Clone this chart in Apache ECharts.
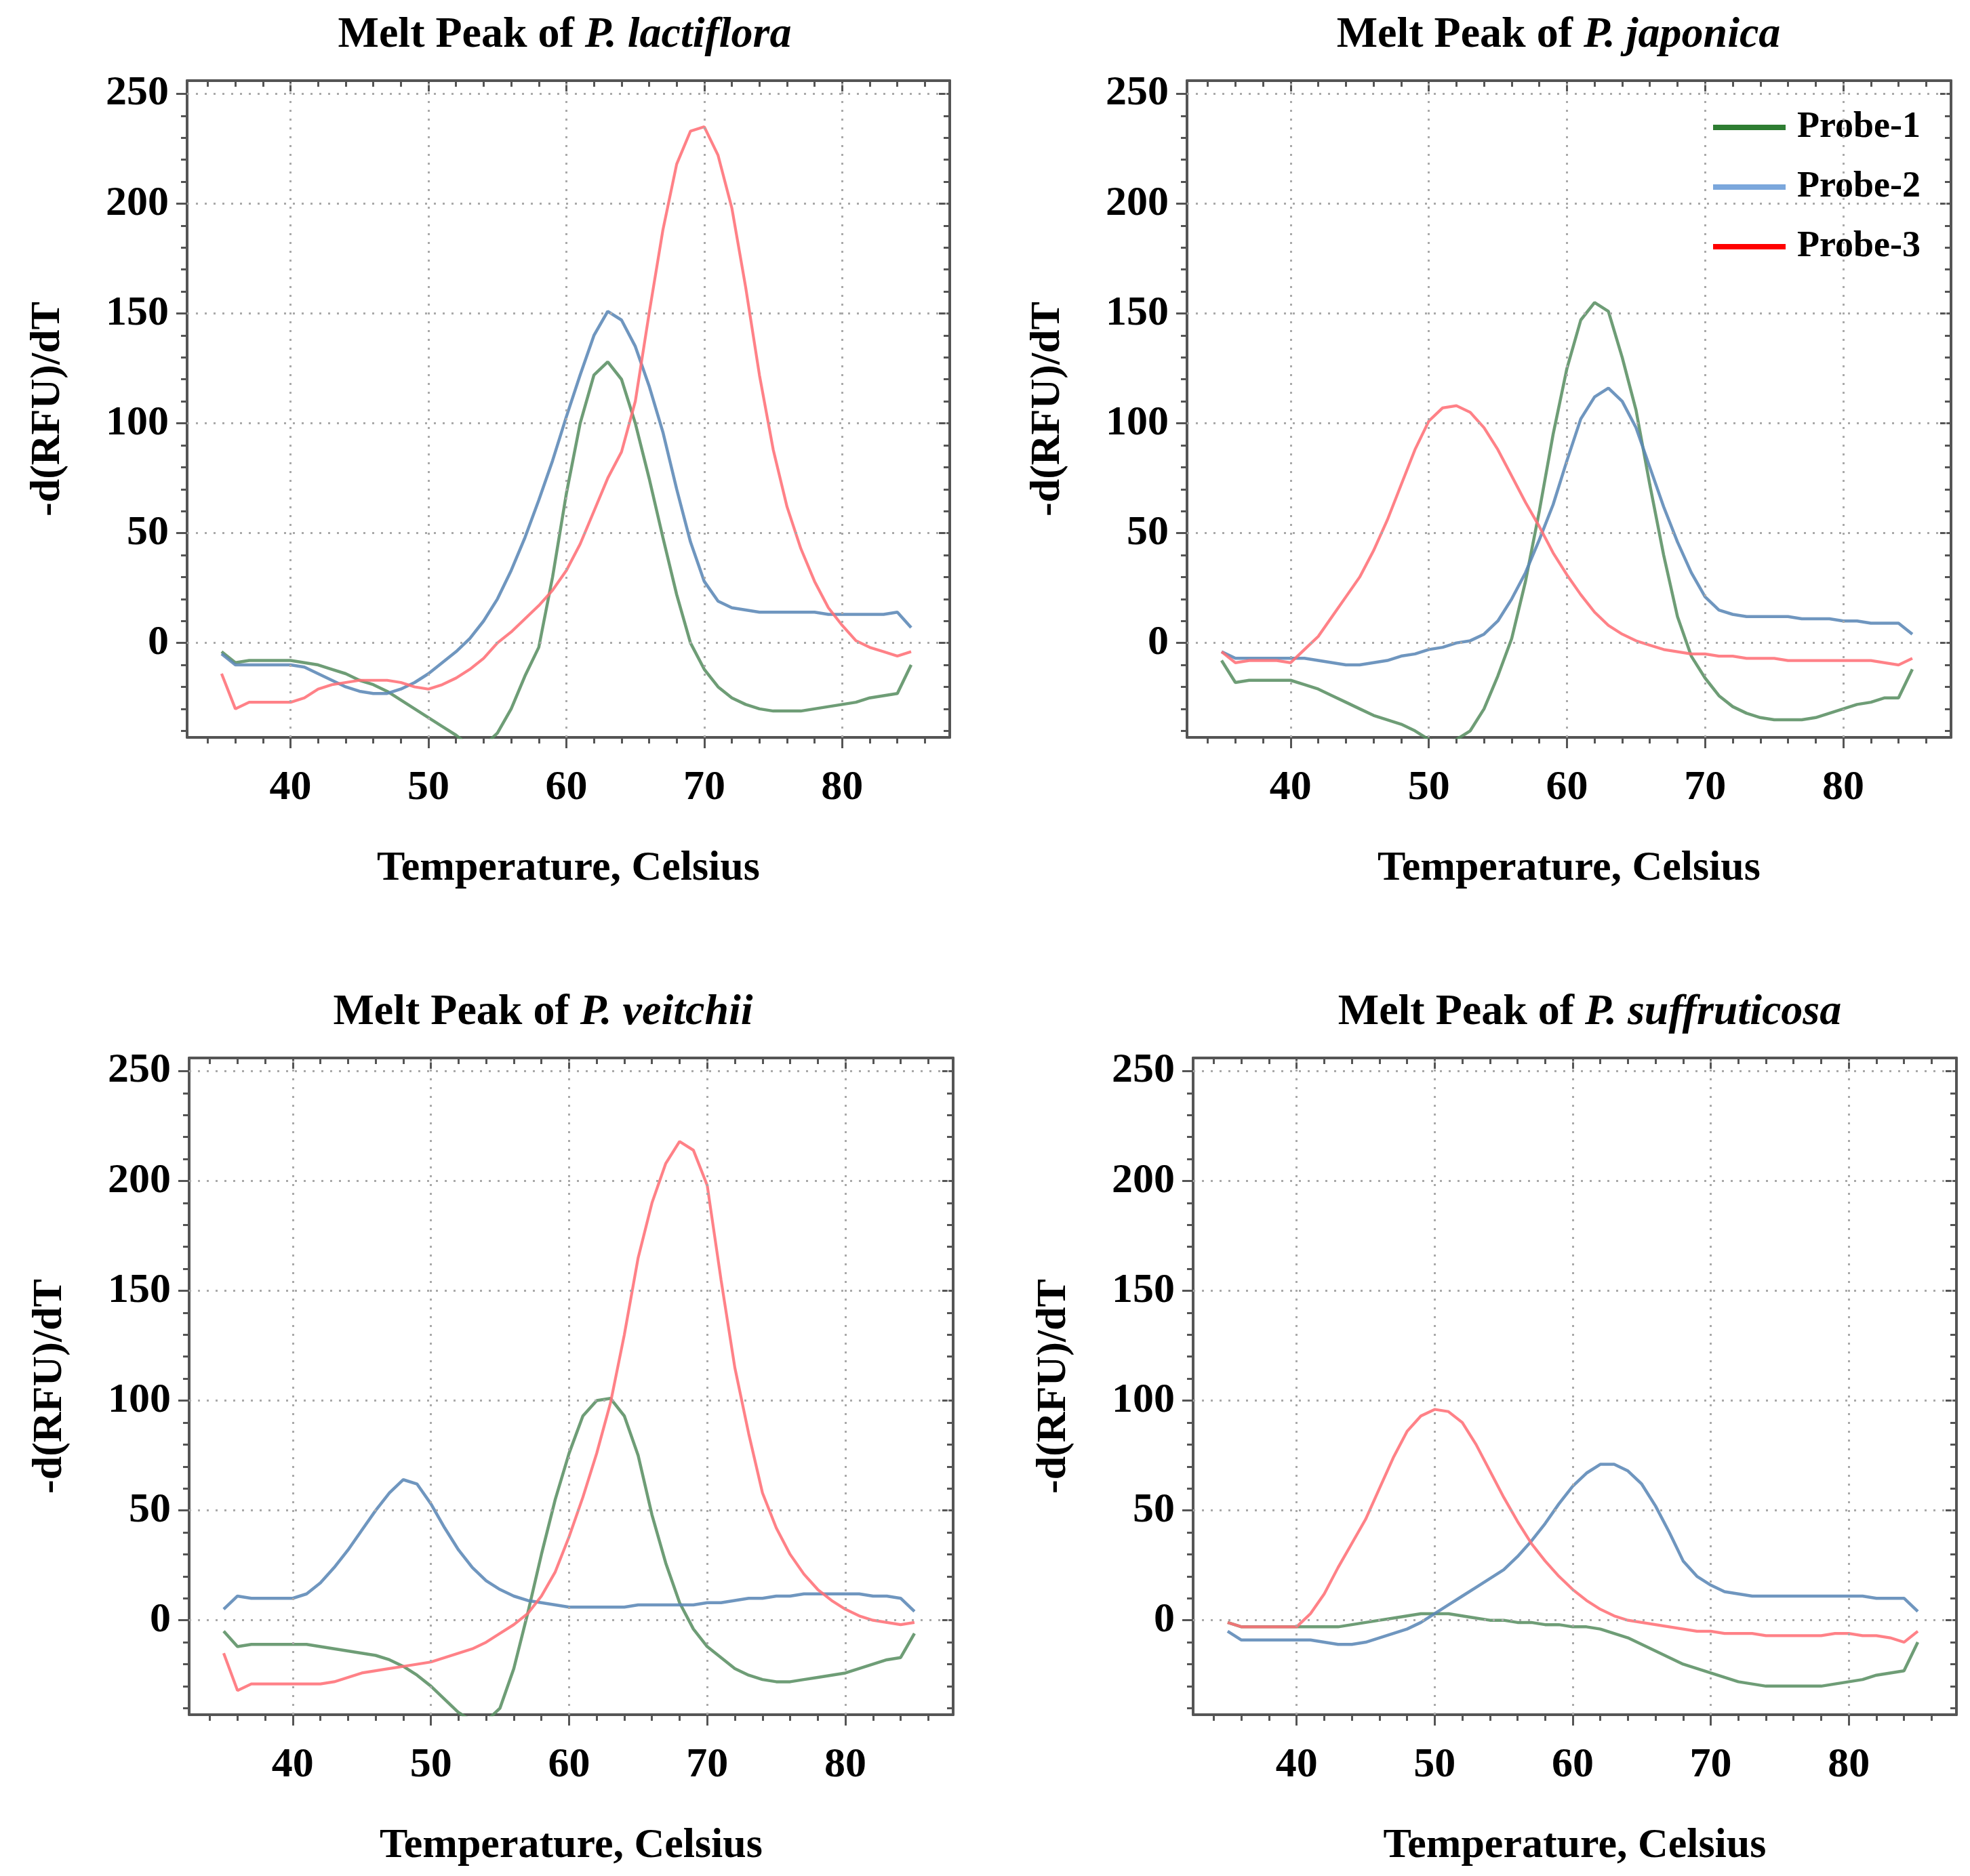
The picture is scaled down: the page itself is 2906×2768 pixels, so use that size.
<!DOCTYPE html>
<html>
<head>
<meta charset="utf-8">
<script src="https://cdn.jsdelivr.net/npm/echarts@6/dist/echarts.min.js"></script>
<style>
html,body{margin:0;padding:0;background:#ffffff;}
#chart{width:2906px;height:2768px;}
</style>
</head>
<body>
<div id="chart"></div>
<script>
// ---------------- DATA ----------------
const temps = [35,36,37,38,39,40,41,42,43,44,45,46,47,48,49,50,51,52,53,54,55,56,57,58,59,60,
               61,62,63,64,65,66,67,68,69,70,71,72,73,74,75,76,77,78,79,80,81,82,83,84,85];
const speciesNames = ['P. lactiflora', 'P. japonica', 'P. veitchii', 'P. suffruticosa'];
const probeNames = ['Probe-1', 'Probe-2', 'Probe-3'];
const xMajorTicks = [40, 50, 60, 70, 80];
const xMinorTicks = [34,36,38,40,42,44,46,48,50,52,54,56,58,60,62,64,66,68,70,72,74,76,78,80,82,84,86];
const yMajorTicks = [0, 50, 100, 150, 200, 250];
const yMinorTicks = [-40,-30,-20,-10,0,10,20,30,40,50,60,70,80,90,100,110,120,130,140,150,160,170,180,190,200,210,220,230,240,250];

// P. lactiflora
const lactifloraP1 = [-4,-9,-8,-8,-8,-8,-9,-10,-12,-14,-17,-19,-22,-26,-30,-34,-38,-42,-47,-47,-41,-30,-15,-2,30,68,100,122,128,120,100,75,48,22,0,-12,-20,-25,-28,-30,-31,-31,-31,-30,-29,-28,-27,-25,-24,-23,-10];
const lactifloraP2 = [-5,-10,-10,-10,-10,-10,-11,-14,-17,-20,-22,-23,-23,-21,-18,-14,-9,-4,2,10,20,33,48,65,83,103,122,140,151,147,135,117,96,70,46,28,19,16,15,14,14,14,14,14,13,13,13,13,13,14,7];
const lactifloraP3 = [-14,-30,-27,-27,-27,-27,-25,-21,-19,-18,-17,-17,-17,-18,-20,-21,-19,-16,-12,-7,0,5,11,17,24,33,45,60,75,87,110,150,188,218,233,235,222,198,162,122,88,62,43,28,16,8,1,-2,-4,-6,-4];
// P. japonica
const japonicaP1 = [-8,-18,-17,-17,-17,-17,-19,-21,-24,-27,-30,-33,-35,-37,-40,-44,-46,-44,-40,-30,-15,2,28,60,95,125,147,155,151,130,106,72,40,12,-6,-16,-24,-29,-32,-34,-35,-35,-35,-34,-32,-30,-28,-27,-25,-25,-12];
const japonicaP2 = [-4,-7,-7,-7,-7,-7,-7,-8,-9,-10,-10,-9,-8,-6,-5,-3,-2,0,1,4,10,20,32,47,63,83,102,112,116,110,98,80,62,46,32,21,15,13,12,12,12,12,11,11,11,10,10,9,9,9,4];
const japonicaP3 = [-4,-9,-8,-8,-8,-9,-3,3,12,21,30,42,56,72,88,101,107,108,105,98,88,76,64,53,41,31,22,14,8,4,1,-1,-3,-4,-5,-5,-6,-6,-7,-7,-7,-8,-8,-8,-8,-8,-8,-8,-9,-10,-7];
// P. veitchii
const veitchiiP1 = [-5,-12,-11,-11,-11,-11,-11,-12,-13,-14,-15,-16,-18,-21,-25,-30,-36,-42,-46,-46,-40,-22,3,30,55,76,93,100,101,93,75,48,26,8,-4,-12,-17,-22,-25,-27,-28,-28,-27,-26,-25,-24,-22,-20,-18,-17,-6];
const veitchiiP2 = [5,11,10,10,10,10,12,17,24,32,41,50,58,64,62,53,42,32,24,18,14,11,9,8,7,6,6,6,6,6,7,7,7,7,7,8,8,9,10,10,11,11,12,12,12,12,12,11,11,10,4];
const veitchiiP3 = [-15,-32,-29,-29,-29,-29,-29,-29,-28,-26,-24,-23,-22,-21,-20,-19,-17,-15,-13,-10,-6,-2,3,11,22,38,56,76,99,130,165,190,208,218,214,198,155,115,85,58,42,30,21,14,9,5,2,0,-1,-2,-1];
// P. suffruticosa
const suffruticosaP1 = [-1,-3,-3,-3,-3,-3,-3,-3,-3,-2,-1,0,1,2,3,3,3,2,1,0,0,-1,-1,-2,-2,-3,-3,-4,-6,-8,-11,-14,-17,-20,-22,-24,-26,-28,-29,-30,-30,-30,-30,-30,-29,-28,-27,-25,-24,-23,-10];
const suffruticosaP2 = [-5,-9,-9,-9,-9,-9,-9,-10,-11,-11,-10,-8,-6,-4,-1,3,7,11,15,19,23,29,36,44,53,61,67,71,71,68,62,52,40,27,20,16,13,12,11,11,11,11,11,11,11,11,11,10,10,10,4];
const suffruticosaP3 = [-1,-3,-3,-3,-3,-3,3,12,24,35,46,60,74,86,93,96,95,90,80,68,56,45,35,27,20,14,9,5,2,0,-1,-2,-3,-4,-5,-5,-6,-6,-6,-7,-7,-7,-7,-7,-6,-6,-7,-7,-8,-10,-5];

const panelSeries = [
  [lactifloraP1, lactifloraP2, lactifloraP3],
  [japonicaP1, japonicaP2, japonicaP3],
  [veitchiiP1, veitchiiP2, veitchiiP3],
  [suffruticosaP1, suffruticosaP2, suffruticosaP3]
];

// ---------------- STYLE / LAYOUT ----------------
const FONT = 'Liberation Serif';
const lineColors = ['#5a8f63', '#5b88b6', '#ff6f76'];
const lineWidths = [4.5, 4.5, 4.2];
const legendColors = ['#2e7d32', '#7ba7dc', '#ff0000'];
const axisColor = '#555555';
const grids = [
  {left: 276,  top: 119,  width: 1125, height: 969},
  {left: 1751, top: 119,  width: 1127, height: 969},
  {left: 279,  top: 1561, width: 1127, height: 969},
  {left: 1760, top: 1561, width: 1126, height: 969}
];
const titlePos = [
  {x: 828, y: 15}, {x: 2294, y: 15}, {x: 796, y: 1457}, {x: 2340, y: 1457}
];
const X_MIN = 32.5, X_MAX = 87.8, Y_MIN = -43, Y_MAX = 256;
const LABEL_SIZE = 62, TITLE_SIZE = 64, NAME_SIZE = 62;

const xAxes = [], yAxes = [], series = [], titles = [];
grids.forEach((g, gi) => {
  const xb = {type: 'value', gridIndex: gi, min: X_MIN, max: X_MAX, splitLine: {show: false},
    minorTick: {show: false}, minorSplitLine: {show: false}};
  const yb = {type: 'value', gridIndex: gi, min: Y_MIN, max: Y_MAX, splitLine: {show: false},
    minorTick: {show: false}, minorSplitLine: {show: false}};
  const lineSt = {show: true, onZero: false, lineStyle: {color: axisColor, width: 4}};
  const noLine = {show: false, onZero: false};
  const tickSt = {color: axisColor, width: 3};
  // bottom: labels + minor ticks
  xAxes.push(Object.assign({}, xb, {position: 'bottom', axisLine: lineSt,
    axisTick: {show: true, inside: false, length: 9, customValues: xMinorTicks, lineStyle: tickSt},
    axisLabel: {show: true, customValues: xMajorTicks, margin: 44, fontFamily: FONT, fontWeight: 'bold', fontSize: LABEL_SIZE, color: '#000'},
    name: 'Temperature, Celsius', nameLocation: 'middle', nameGap: 163,
    nameTextStyle: {fontFamily: FONT, fontWeight: 'bold', fontSize: NAME_SIZE, color: '#000'}}));
  // bottom major ticks
  xAxes.push(Object.assign({}, xb, {position: 'bottom', axisLine: noLine,
    axisTick: {show: true, inside: false, length: 16, customValues: xMajorTicks, lineStyle: tickSt},
    axisLabel: {show: false}}));
  // top minor ticks
  xAxes.push(Object.assign({}, xb, {position: 'top', axisLine: lineSt,
    axisTick: {show: true, inside: true, length: 9, customValues: xMinorTicks, lineStyle: tickSt},
    axisLabel: {show: false}}));
  // top major ticks
  xAxes.push(Object.assign({}, xb, {position: 'top', axisLine: noLine,
    axisTick: {show: true, inside: true, length: 16, customValues: xMajorTicks, lineStyle: tickSt},
    axisLabel: {show: false}}));

  yAxes.push(Object.assign({}, yb, {position: 'left', axisLine: lineSt,
    axisTick: {show: true, inside: false, length: 9, customValues: yMinorTicks, lineStyle: tickSt},
    axisLabel: {show: true, customValues: yMajorTicks, margin: 27, fontFamily: FONT, fontWeight: 'bold', fontSize: LABEL_SIZE, color: '#000'},
    name: '-d(RFU)/dT', nameLocation: 'middle', nameGap: 174, nameRotate: 90,
    nameTextStyle: {fontFamily: FONT, fontWeight: 'bold', fontSize: NAME_SIZE, color: '#000'}}));
  yAxes.push(Object.assign({}, yb, {position: 'left', axisLine: noLine,
    axisTick: {show: true, inside: false, length: 16, customValues: yMajorTicks, lineStyle: tickSt},
    axisLabel: {show: false}}));
  yAxes.push(Object.assign({}, yb, {position: 'right', axisLine: lineSt,
    axisTick: {show: true, inside: true, length: 9, customValues: yMinorTicks, lineStyle: tickSt},
    axisLabel: {show: false}}));
  yAxes.push(Object.assign({}, yb, {position: 'right', axisLine: noLine,
    axisTick: {show: true, inside: true, length: 16, customValues: yMajorTicks, lineStyle: tickSt},
    axisLabel: {show: false}}));

  // dotted grid lines
  series.push({
    type: 'line', xAxisIndex: gi * 4, yAxisIndex: gi * 4, data: [], silent: true, z: 1,
    markLine: {
      silent: true, symbol: ['none', 'none'], animation: false, label: {show: false},
      lineStyle: {color: '#a9a9a9', width: 3, type: [3, 10]},
      emphasis: {disabled: true},
      data: xMajorTicks.map(v => ({xAxis: v})).concat(yMajorTicks.map(v => ({yAxis: v})))
    }
  });
  panelSeries[gi].forEach((vals, pi) => {
    series.push({
      type: 'line', name: probeNames[pi], xAxisIndex: gi * 4, yAxisIndex: gi * 4,
      data: temps.map((t, k) => [t, vals[k]]),
      showSymbol: false, symbol: 'none', smooth: false, clip: true, z: 2 + pi,
      lineStyle: {color: lineColors[pi], width: lineWidths[pi], opacity: 0.88},
      itemStyle: {color: legendColors[pi]},
      emphasis: {disabled: true}
    });
  });

  titles.push({
    text: '{a|Melt Peak of }{b|' + speciesNames[gi] + '}',
    left: titlePos[gi].x, top: titlePos[gi].y, textAlign: 'center',
    textStyle: {
      rich: {
        a: {fontFamily: FONT, fontWeight: 'bold', fontSize: TITLE_SIZE, color: '#000'},
        b: {fontFamily: FONT, fontWeight: 'bold', fontStyle: 'italic', fontSize: TITLE_SIZE, color: '#000'}
      }
    }
  });
});

const chart = echarts.init(document.getElementById('chart'), null, {renderer: 'canvas', width: 2906, height: 2768});
chart.setOption({
  backgroundColor: '#ffffff',
  animation: false,
  title: titles,
  grid: grids.map(g => Object.assign({containLabel: false}, g)),
  xAxis: xAxes,
  yAxis: yAxes,
  legend: {
    orient: 'vertical', left: 2522, top: 153,
    icon: 'rect', itemWidth: 107, itemHeight: 8, itemGap: 28,
    textStyle: {fontFamily: FONT, fontWeight: 'bold', fontSize: 54, color: '#000', lineHeight: 60, padding: [0, 0, 0, 12]},
    data: probeNames.map((n, i) => ({name: n, itemStyle: {color: legendColors[i]}}))
  },
  series: series
});
</script>
</body>
</html>
